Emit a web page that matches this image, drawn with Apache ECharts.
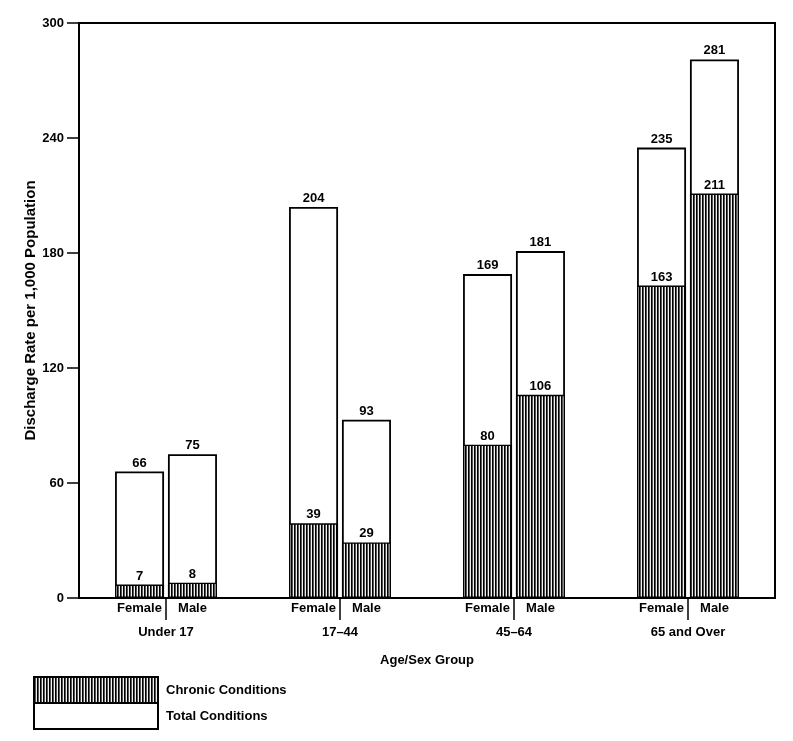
<!DOCTYPE html>
<html>
<head>
<meta charset="utf-8">
<script src="https://cdn.jsdelivr.net/npm/echarts@6/dist/echarts.min.js"></script>
<style>
html,body{margin:0;padding:0;background:#fff;}
#chart{width:793px;height:741px;}
</style>
</head>
<body>
<div id="chart"></div>
<script>
// ---- data ----
var groups = ['Under 17', '17\u201344', '45\u201364', '65 and Over'];
var femaleTotal = [66, 204, 169, 235];
var maleTotal = [75, 93, 181, 281];
var femaleChronic = [7, 39, 80, 163];
var maleChronic = [8, 29, 106, 211];
var yTicks = [0, 60, 120, 180, 240, 300];
var sexLabels = ['Female', 'Male'];

// ---- hatch pattern ----
function makeHatch() {
  var c = document.createElement('canvas');
  c.width = 3; c.height = 4;
  var ctx = c.getContext('2d');
  ctx.fillStyle = '#000'; ctx.fillRect(0, 0, 1, 4);
  ctx.fillStyle = '#555'; ctx.fillRect(1, 0, 1, 4);
  ctx.fillStyle = '#f0f0f0'; ctx.fillRect(2, 0, 1, 4);
  return c;
}
var hatch = { image: makeHatch(), repeat: 'repeat' };

var FONT = '"Liberation Sans", Arial, Helvetica, sans-serif';
var FW = 'bold';
var BAR_W = 49, BAR_GAP = '8%';

var totalStyle = { color: '#fff', borderColor: '#000', borderWidth: 1.8 };
var chronicStyle = { color: hatch, borderColor: '#000', borderWidth: 1.4 };
var lbl = { show: true, position: 'top', distance: 2, color: '#000', fontSize: 13, fontWeight: FW, fontFamily: FONT };
var txt = { color: '#000', fontSize: 13, fontWeight: FW, fontFamily: FONT };

function legendFor(name, top) {
  return {
    orient: 'vertical', left: 33, top: top, itemWidth: 124, itemHeight: 26, itemGap: 0,
    icon: 'rect', selectedMode: false, padding: 0,
    data: [name],
    textStyle: { color: '#000', fontSize: 13, fontWeight: FW, fontFamily: FONT, padding: [0, 0, 0, 3] }
  };
}

var chart = echarts.init(document.getElementById('chart'), null, { renderer: 'canvas' });
chart.setOption({
  animation: false,
  backgroundColor: '#fff',
  textStyle: { fontFamily: FONT, color: '#000' },
  grid: { left: 79, top: 23, right: 18, bottom: 143, show: true, borderColor: '#000', borderWidth: 2, backgroundColor: 'transparent' },
  legend: [legendFor('Chronic Conditions', 676), legendFor('Total Conditions', 702)],
  xAxis: [
    {
      type: 'category', data: groups, position: 'bottom',
      axisLine: { show: true, lineStyle: { color: '#000', width: 2 } },
      axisTick: { show: true, alignWithLabel: true, length: 22, lineStyle: { color: '#000', width: 1.5 } },
      axisLabel: {
        margin: 2, interval: 0,
        formatter: function (v) { return '{f|' + sexLabels[0] + '}{m|' + sexLabels[1] + '}\n{g|' + v + '}'; },
        rich: {
          f: Object.assign({ width: 53, align: 'center', lineHeight: 16 }, txt),
          m: Object.assign({ width: 53, align: 'center', lineHeight: 16 }, txt),
          g: Object.assign({ lineHeight: 32, align: 'center' }, txt)
        }
      },
      name: 'Age/Sex Group', nameLocation: 'middle', nameGap: 56, nameMoveOverlap: false,
      nameTextStyle: txt
    },
    { type: 'category', data: groups, show: false, position: 'bottom' }
  ],
  yAxis: {
    type: 'value', min: yTicks[0], max: yTicks[yTicks.length - 1], interval: 60,
    axisLine: { show: true, lineStyle: { color: '#000', width: 2 } },
    axisTick: { show: true, length: 12, lineStyle: { color: '#000', width: 1.5 } },
    axisLabel: Object.assign({ margin: 15 }, txt),
    splitLine: { show: false },
    name: 'Discharge Rate per 1,000 Population', nameLocation: 'middle', nameGap: 41, nameMoveOverlap: false,
    nameTextStyle: { color: '#000', fontSize: 15, fontWeight: FW, fontFamily: FONT }
  },
  series: [
    { name: 'Total Conditions', type: 'bar', xAxisIndex: 0, data: femaleTotal, barWidth: BAR_W, barGap: BAR_GAP, itemStyle: totalStyle, label: lbl },
    { name: 'Total Conditions', type: 'bar', xAxisIndex: 0, data: maleTotal, barWidth: BAR_W, barGap: BAR_GAP, itemStyle: totalStyle, label: lbl },
    { name: 'Chronic Conditions', type: 'bar', xAxisIndex: 1, data: femaleChronic, barWidth: BAR_W, barGap: BAR_GAP, itemStyle: chronicStyle, label: lbl, z: 3 },
    { name: 'Chronic Conditions', type: 'bar', xAxisIndex: 1, data: maleChronic, barWidth: BAR_W, barGap: BAR_GAP, itemStyle: chronicStyle, label: lbl, z: 3 }
  ]
});
</script>
</body>
</html>
